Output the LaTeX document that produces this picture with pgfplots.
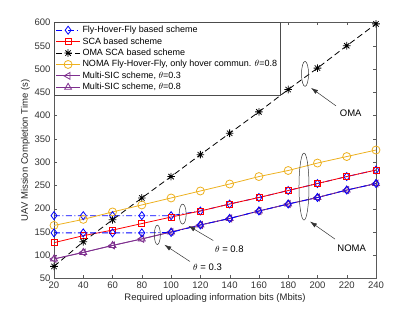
\documentclass[border=0pt]{standalone}
\usepackage{fontspec}
\setmainfont{Liberation Sans}
\usepackage{pgfplots}
\pgfplotsset{compat=1.18}
\usetikzlibrary{arrows.meta}
\definecolor{myyellow}{rgb}{0.929,0.694,0.125}
\definecolor{mypurple}{rgb}{0.494,0.184,0.556}
\pgfdeclareplotmark{mstar}{%
  \pgfpathmoveto{\pgfqpoint{-\pgfplotmarksize}{0pt}}\pgfpathlineto{\pgfqpoint{\pgfplotmarksize}{0pt}}%
  \pgfpathmoveto{\pgfqpoint{0pt}{-\pgfplotmarksize}}\pgfpathlineto{\pgfqpoint{0pt}{\pgfplotmarksize}}%
  \pgfpathmoveto{\pgfqpoint{-0.707\pgfplotmarksize}{-0.707\pgfplotmarksize}}\pgfpathlineto{\pgfqpoint{0.707\pgfplotmarksize}{0.707\pgfplotmarksize}}%
  \pgfpathmoveto{\pgfqpoint{-0.707\pgfplotmarksize}{0.707\pgfplotmarksize}}\pgfpathlineto{\pgfqpoint{0.707\pgfplotmarksize}{-0.707\pgfplotmarksize}}%
  \pgfusepathqstroke}
\begin{document}
\begin{tikzpicture}
\begin{axis}[
  width=322pt, height=256pt, scale only axis,
  xmin=20, xmax=240, ymin=50, ymax=600,
  xtick={20,40,...,240}, ytick={50,100,...,600},
  tick align=inside, major tick length=3pt,
  axis line style={draw=black!65}, tick style={draw=black!65},
  /pgf/number format/assume math mode=true,
  ticklabel style={font=\fontsize{9.5}{11}\selectfont, text=black!80},
  label style={font=\fontsize{9.5}{11}\selectfont, text=black!85},
  xlabel={Required uploading information bits (Mbits)},
  ylabel={UAV Mission Completion Time (s)},
  xlabel style={yshift=2pt},
  ylabel style={yshift=-2pt},
  legend style={at={(0,1)}, anchor=north west, draw=black!70, fill=white,
    font=\fontsize{9}{10.5}\selectfont, inner sep=1.5pt, row sep=-0.6pt},
  legend cell align=left,
  legend image code/.code={\draw[mark repeat=2,mark phase=2] plot coordinates {(0pt,0pt)(12pt,0pt)(24pt,0pt)};},
  every axis plot/.append style={line width=0.8pt},
  clip=false,
]
\addplot[blue, mark=diamond, mark size=4pt, mark options={solid,fill=none}, dash pattern=on 6pt off 2.5pt on 1pt off 2.5pt]
  coordinates {(20,185)(40,185)(60,185)(80,185)(100,185)(120,195)(140,210)(160,224)(180,239)(200,254)(220,269)(240,283)};
\addlegendentry{Fly-Hover-Fly based scheme}
\addplot[red, mark=square, mark size=3pt, mark options={solid,fill=none}]
  coordinates {(20,127)(40,142)(60,154)(80,168)(100,182)(120,195)(140,210)(160,224)(180,239)(200,254)(220,269)(240,283)};
\addlegendentry{SCA based scheme}
\addplot[black, mark=mstar, mark size=3.8pt, mark options={solid}, dash pattern=on 6pt off 3.5pt]
  coordinates {(20,76)(40,129)(60,176)(80,223)(100,269)(120,316)(140,362)(160,408)(180,456)(200,502)(220,550)(240,597)};
\addlegendentry{OMA SCA based scheme}
\addplot[myyellow, mark=o, mark size=4pt, mark options={solid,fill=none}]
  coordinates {(20,164)(40,177)(60,193)(80,208)(100,223)(120,238)(140,253)(160,269)(180,282)(200,298)(220,312)(240,326)};
\addlegendentry{NOMA Fly-Hover-Fly, only hover commun. $\theta$=0.8}
\addplot[mypurple, mark=triangle, mark size=4pt, mark options={solid,fill=none,rotate=90}]
  coordinates {(20,92)(40,106)(60,121)(80,135)(100,150)(120,165)(140,179)(160,195)(180,210)(200,224)(220,240)(240,254)};
\addlegendentry{Multi-SIC scheme, $\theta$=0.3}
\addplot[mypurple, mark=triangle, mark size=4pt, mark options={solid,fill=none}]
  coordinates {(20,92)(40,106)(60,121)(80,135)(100,150)(120,165)(140,179)(160,195)(180,210)(200,224)(220,240)(240,254)};
\addlegendentry{Multi-SIC scheme, $\theta$=0.8}
\addplot[blue, mark=diamond, mark size=4pt, mark options={solid,fill=none}, dash pattern=on 6pt off 2.5pt on 1pt off 2.5pt, forget plot]
  coordinates {(20,148)(40,148)(60,148)(80,148)(100,149)(120,165)(140,179)(160,195)(180,210)(200,224)(220,240)(240,254)};
% annotations
\draw[black!80, line width=0.5pt] (axis cs:191.5,489.6) ellipse [x radius=3.5pt, y radius=12.5pt];
\draw[black!80, line width=0.5pt] (axis cs:190.8,247.5) ellipse [x radius=5pt, y radius=33.5pt];
\draw[black!80, line width=0.5pt] (axis cs:107.9,188.3) ellipse [x radius=3.5pt, y radius=10pt];
\draw[black!80, line width=0.5pt] (axis cs:90.6,143.8) ellipse [x radius=3pt, y radius=9.7pt];
\draw[black!80, line width=0.5pt, -{Latex[length=7pt,width=4.5pt]}] (axis cs:212.7,420.8) -- (axis cs:195.6,459.5);
\draw[black!80, line width=0.5pt, -{Latex[length=7pt,width=4.5pt]}] (axis cs:212,134.6) -- (axis cs:194.9,172.4);
\draw[black!80, line width=0.5pt, -{Latex[length=7pt,width=4.5pt]}] (axis cs:128.8,131.6) -- (axis cs:111.8,163.2);
\draw[black!80, line width=0.5pt, -{Latex[length=7pt,width=4.5pt]}] (axis cs:112.9,86.5) -- (axis cs:95.4,122.4);
\node[font=\fontsize{9.5}{11}\selectfont] at (axis cs:222.7,405) {OMA};
\node[font=\fontsize{9.5}{11}\selectfont] at (axis cs:223.4,115) {NOMA};
\node[font=\fontsize{9.5}{11}\selectfont] at (axis cs:139.8,113.8) {$\theta$ = 0.8};
\node[font=\fontsize{9.5}{11}\selectfont] at (axis cs:124.9,75) {$\theta$ = 0.3};
\coordinate (BL) at (rel axis cs:0,0);
\coordinate (TR) at (rel axis cs:1,1);
\end{axis}
\pgfresetboundingbox
\path[use as bounding box] ([shift={(-54pt,-33.3pt)}]BL) rectangle ([shift={(39pt,22.5pt)}]TR);
\end{tikzpicture}
\end{document}
